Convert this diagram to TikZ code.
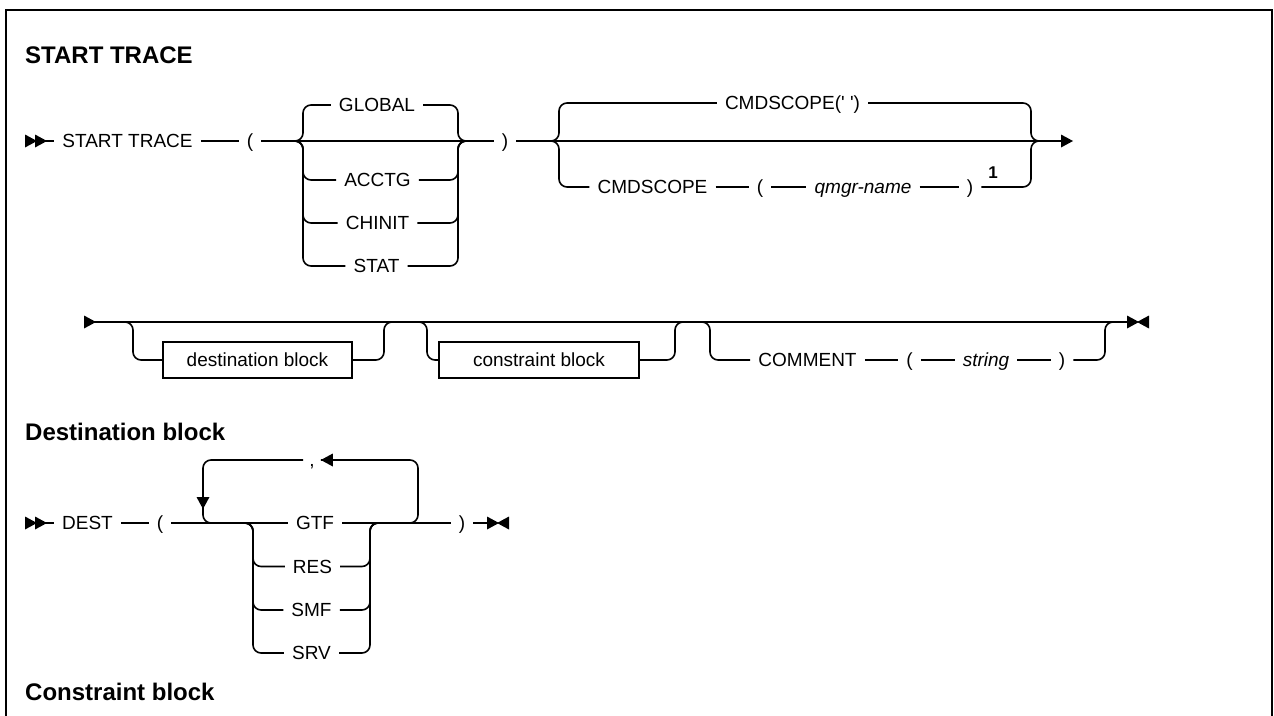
\documentclass[tikz,border=0pt]{standalone}
\usepackage{fontspec}
\setmainfont{Liberation Sans}
\usetikzlibrary{arrows.meta}
\begin{document}
\begin{tikzpicture}[x=1pt,y=-1pt,
  ln/.style={line width=1.6pt},
  br/.style={line width=1.6pt, rounded corners=8pt},
  kw/.style={font=\fontsize{19}{22}\selectfont, inner xsep=8pt, inner ysep=0pt, text height=13.6pt, text depth=0pt, anchor=center},
  var/.style={kw, font=\fontsize{19}{22}\selectfont\itshape},
  blk/.style={kw, draw, line width=1.2pt, inner xsep=0pt, minimum height=36pt},
  head/.style={font=\fontsize{24}{28}\selectfont\bfseries, anchor=base west, inner sep=0pt},
  note/.style={font=\fontsize{17}{20}\selectfont\bfseries, anchor=base, inner sep=0pt},
  rtri/.pic={\fill (0,-6.5) -- (12,0) -- (0,6.5) -- cycle;},
]
\useasboundingbox (0,0) rectangle (1274,715);
% frame
\draw[line width=2.5pt] (6,740) -- (6,10) -- (1272,10) -- (1272,740);

% ---------- START TRACE ----------
\node[head] (title) at (25,63) {START TRACE};

\path (25,141) pic{rtri};
\path (35,141) pic{rtri};
\coordinate (s1) at (40,141);
\node[kw] (st) at (127.5,141) {START TRACE};
\node[kw] (lp1) at (250,141) {(};
\node[kw] (rp1) at (505,141) {)};
\draw[ln] (s1) -- (st.west);
\draw[ln] (st.east) -- (lp1.west);
\draw[ln] (lp1.east) -- (rp1.west);

\coordinate (j1) at (303,141);
\coordinate (k1) at (458,141);
\node[kw] (glob) at (377,105) {GLOBAL};
\node[kw] (acc) at (377.5,180) {ACCTG};
\node[kw] (chi) at (377.5,223) {CHINIT};
\node[kw] (sta) at (376.5,266) {STAT};
\foreach \n in {glob,acc,chi,sta}{
  \draw[br] ([xshift=-10pt]j1) -- (j1) |- (\n.west);
  \draw[br] (\n.east) -| (k1) -- ([xshift=10pt]k1);
}

\coordinate (j2) at (559,141);
\coordinate (k2) at (1031,141);
\node[kw] (cmd1) at (792.5,103) {CMDSCOPE(\textquotesingle\ \textquotesingle)};
\node[kw] (cmd2) at (652.5,187) {CMDSCOPE};
\node[kw] (lp2) at (760,187) {(};
\node[var] (qm) at (863,187) {qmgr-name};
\node[kw] (rp2) at (970,187) {)};
\node[note] (n1) at (993,178) {1};
\draw[br] ([xshift=-10pt]j2) -- (j2) |- (cmd1.west);
\draw[br] (cmd1.east) -| (k2) -- ([xshift=10pt]k2);
\draw[br] ([xshift=-10pt]j2) -- (j2) |- (cmd2.west);
\draw[ln] (cmd2.east) -- (lp2.west);
\draw[ln] (lp2.east) -- (qm.west);
\draw[ln] (qm.east) -- (rp2.west);
\draw[br] (rp2.east) -| (k2) -- ([xshift=10pt]k2);
\coordinate (e1) at (1061,141);
\draw[ln] (rp1.east) -- (e1);
\path (e1) pic{rtri};

% ---------- row 2 ----------
\path (84,322) pic{rtri};
\coordinate (s2) at (90,322);
\coordinate (e2) at (1127,322);
\draw[ln] (s2) -- (e2);
\path (e2) pic{rtri};
\path (1149,322) pic[rotate=180]{rtri};

\coordinate (j3) at (133,322);
\coordinate (k3) at (384,322);
\node[blk, minimum width=189pt] (db) at (257.5,360) {destination block};
\draw[br] ([xshift=-10pt]j3) -- (j3) |- (db.west);
\draw[br] (db.east) -| (k3) -- ([xshift=10pt]k3);

\coordinate (j4) at (427,322);
\coordinate (k4) at (675,322);
\node[blk, minimum width=200pt] (cb) at (539,360) {constraint block};
\draw[br] ([xshift=-10pt]j4) -- (j4) |- (cb.west);
\draw[br] (cb.east) -| (k4) -- ([xshift=10pt]k4);

\coordinate (j5) at (710,322);
\coordinate (k5) at (1105,322);
\node[kw] (com) at (807.5,360) {COMMENT};
\node[kw] (lp3) at (909.5,360) {(};
\node[var] (str) at (986,360) {string};
\node[kw] (rp3) at (1062,360) {)};
\draw[br] ([xshift=-10pt]j5) -- (j5) |- (com.west);
\draw[ln] (com.east) -- (lp3.west);
\draw[ln] (lp3.east) -- (str.west);
\draw[ln] (str.east) -- (rp3.west);
\draw[br] (rp3.east) -| (k5) -- ([xshift=10pt]k5);

% ---------- Destination block ----------
\node[head] (h2) at (25,440) {Destination block};

\path (25,523) pic{rtri};
\path (35,523) pic{rtri};
\coordinate (s3) at (40,523);
\node[kw] (dest) at (87.5,523) {DEST};
\node[kw] (lp4) at (160,523) {(};
\node[kw] (gtf) at (315,523) {GTF};
\node[kw] (rp4) at (462,523) {)};
\coordinate (e3) at (487,523);
\draw[ln] (s3) -- (dest.west);
\draw[ln] (dest.east) -- (lp4.west);
\draw[ln] (lp4.east) -- (gtf.west);
\draw[ln] (gtf.east) -- (rp4.west);
\draw[ln] (rp4.east) -- (e3);
\path (e3) pic{rtri};
\path (509,523) pic[rotate=180]{rtri};

\coordinate (j6) at (253,523);
\coordinate (k6) at (370,523);
\node[kw] (res) at (312.5,566.5) {RES};
\node[kw] (smf) at (311.5,610) {SMF};
\node[kw] (srv) at (311.5,653) {SRV};
\foreach \n in {res,smf,srv}{
  \draw[br] ([xshift=-10pt]j6) -- (j6) |- (\n.west);
  \draw[br] (\n.east) -| (k6) -- ([xshift=10pt]k6);
}

\coordinate (ll) at (203,523);
\coordinate (lr) at (418,523);
\node[kw, inner xsep=6pt] (cm) at (312,460) {,};
\draw[br] ([xshift=-10pt]lr) -- (lr) |- (cm.east);
\path (cm.east) ++(12,0) pic[rotate=180]{rtri};
\draw[br] (cm.west) -| (ll) -- ([xshift=10pt]ll);
\path (203,497) pic[rotate=-90]{rtri};

% ---------- Constraint block ----------
\node[head] (h3) at (25,700) {Constraint block};
\end{tikzpicture}
\end{document}
